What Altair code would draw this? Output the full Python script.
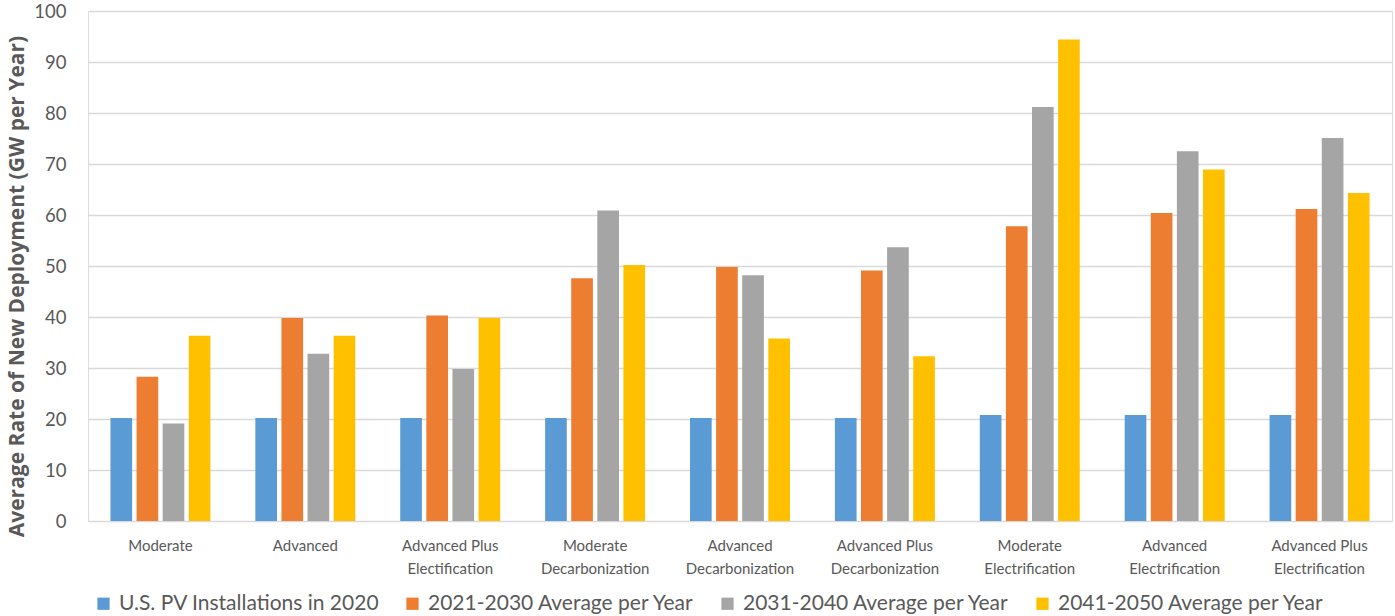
import altair as alt
import pandas as pd

categories = [
    "Moderate",
    "Advanced",
    "Advanced Plus\nElectification",
    "Moderate\nDecarbonization",
    "Advanced\nDecarbonization",
    "Advanced Plus\nDecarbonization",
    "Moderate\nElectrification",
    "Advanced\nElectrification",
    "Advanced Plus\nElectrification",
]
series = [
    "U.S. PV Installations in 2020",
    "2021-2030 Average per Year",
    "2031-2040 Average per Year",
    "2041-2050 Average per Year",
]
colors = ["#5B9BD5", "#ED7D31", "#A5A5A5", "#FFC000"]

pv_2020 = [20.2, 20.2, 20.2, 20.2, 20.2, 20.2, 20.8, 20.8, 20.8]
avg_2021_2030 = [28.3, 39.8, 40.3, 47.6, 49.8, 49.1, 57.8, 60.4, 61.2]
avg_2031_2040 = [19.1, 32.8, 29.8, 60.9, 48.2, 53.7, 81.2, 72.5, 75.1]
avg_2041_2050 = [36.3, 36.3, 39.8, 50.2, 35.8, 32.3, 94.4, 68.9, 64.3]

values = [pv_2020, avg_2021_2030, avg_2031_2040, avg_2041_2050]
rows = []
for s, vals in zip(series, values):
    for c, v in zip(categories, vals):
        rows.append({"category": c, "series": s, "value": v})
df = pd.DataFrame(rows)

FONT = "Lato"
TXT = "#595959"

chart = (
    alt.Chart(df)
    .mark_bar()
    .encode(
        x=alt.X(
            "category:N",
            sort=categories,
            scale=alt.Scale(paddingInner=0.31, paddingOuter=0.155),
            axis=alt.Axis(
                title=None,
                labelAngle=0,
                labelExpr="split(datum.value, '\\n')",
                labelFont=FONT,
                labelFontSize=15,
                labelColor=TXT,
                labelPadding=17,
                labelLineHeight=23,
                domain=False,
                ticks=False,
                grid=False,
            ),
        ),
        xOffset=alt.XOffset(
            "series:N", sort=series, scale=alt.Scale(paddingInner=0.17, paddingOuter=0)
        ),
        y=alt.Y(
            "value:Q",
            scale=alt.Scale(domain=[0, 100], nice=False),
            axis=alt.Axis(
                title="Average Rate of New Deployment (GW per Year)",
                values=list(range(0, 101, 10)),
                titleFont="Open Sans",
                titleFontSize=21,
                titleFontWeight="bold",
                titleColor=TXT,
                titlePadding=6,
                titleY=275,
                labelFont=FONT,
                labelFontSize=18.5,
                labelColor=TXT,
                labelPadding=22,
                domain=False,
                ticks=False,
                grid=True,
                gridColor="#D9D9D9",
                gridWidth=1.5,
            ),
        ),
        color=alt.Color(
            "series:N",
            sort=series,
            scale=alt.Scale(domain=series, range=colors),
            legend=alt.Legend(
                title=None,
                orient="none",
                legendX=5,
                legendY=582,
                direction="horizontal",
                columns=4,
                symbolType="square",
                symbolSize=150,
                symbolStrokeWidth=0,
                labelFont=FONT,
                labelFontSize=21,
                labelColor=TXT,
                labelOffset=5,
                labelLimit=0,
                columnPadding=22,
            ),
        ),
    )
    .properties(
        width=1304,
        height=510,
        autosize=alt.AutoSizeParams(type="none"),
        padding={"left": 88, "top": 11, "right": 3, "bottom": 95},
    )
    .configure_view(stroke=None)
    .configure(background="white")
)

chart.save("out.html", embed_options={"renderer": "svg", "actions": False})
